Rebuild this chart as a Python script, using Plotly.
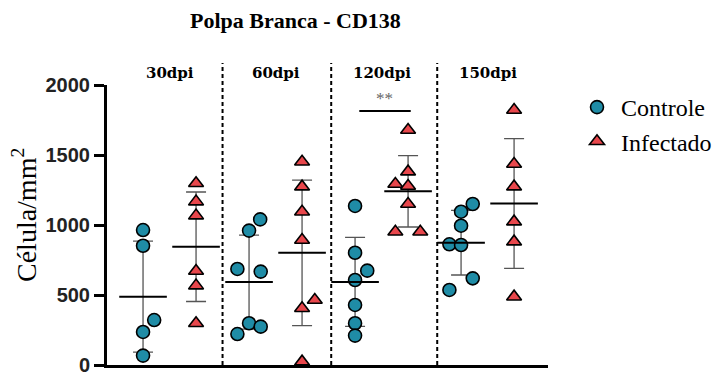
import numpy as np
import plotly.graph_objects as go

periods = ["30dpi", "60dpi", "120dpi", "150dpi"]
groups = ["Controle", "Infectado"]

controle = [
    [964, 852, 321, 236, 67],
    [1040, 960, 686, 667, 298, 274, 221],
    [1136, 802, 674, 607, 429, 298, 210],
    [1150, 1095, 995, 862, 857, 619, 536],
]
infectado = [
    [1298, 1167, 1067, 671, 567, 298],
    [1452, 1274, 1095, 893, 464, 405, 24],
    [1679, 1381, 1293, 1279, 1150, 952, 952],
    [1821, 1436, 1274, 1024, 881, 488],
]
# horizontal scatter of overlapping points (as in the figure)
controle_jitter = [
    [0, 0, 0.21, 0, 0],
    [0.21, 0, -0.22, 0.22, 0, 0.22, -0.22],
    [0, 0, 0.23, 0, 0, 0, 0],
    [0.22, 0, 0, -0.22, 0, 0.22, -0.22],
]
infectado_jitter = [
    [0, 0, 0, 0, 0, 0],
    [0, 0, 0, 0, 0.24, 0, 0],
    [0, 0, -0.24, 0, 0, -0.24, 0.23],
    [0, 0, 0, 0, 0, 0],
]
y_ticks = [0, 500, 1000, 1500, 2000]

TEAL = "#1f8ca6"
RED = "#e8474c"
SERIF = "Liberation Serif"
DSERIF = "DejaVu Serif"
SANS = "Liberation Sans"

# page body has an 8px margin; plot-area geometry in figure pixels
W, H = 724, 373
PL, PT, PW, PH = 99, 77, 441, 280


def px_x(p):  # screen px -> paper x
    return (p - 8 - PL) / PW


def px_y(p):  # screen px -> paper y
    return 1 - (p - 8 - PT) / PH


fig = go.Figure()

series = [(controle, controle_jitter, 0, "circle", TEAL, "Controle"),
          (infectado, infectado_jitter, 1, "triangle-up", RED, "Infectado")]

# error bars (mean ± SD)
for data, jit, off, sym, col, name in series:
    xs = [2 * k + off for k in range(len(periods))]
    means = [float(np.mean(v)) for v in data]
    sds = [float(np.std(v, ddof=1)) for v in data]
    fig.add_trace(go.Scatter(
        x=xs, y=means, mode="markers", showlegend=False, hoverinfo="skip",
        marker=dict(size=1, color="rgba(0,0,0,0)"),
        error_y=dict(type="data", array=sds, visible=True, color="#555555",
                     thickness=1.3, width=10),
    ))

# points
for data, jit, off, sym, col, name in series:
    xs, ys = [], []
    for k, vals in enumerate(data):
        for v, j in zip(vals, jit[k]):
            xs.append(2 * k + off + j)
            ys.append(v)
    fig.add_trace(go.Scatter(
        x=xs, y=ys, mode="markers", name=name, legendgroup=name,
        marker=dict(symbol=sym, size=13, color=col,
                    line=dict(color="black", width=1.6)),
        cliponaxis=False,
    ))

# mean lines
for data, jit, off, sym, col, name in series:
    xs = [2 * k + off for k in range(len(periods))]
    means = [float(np.mean(v)) for v in data]
    fig.add_trace(go.Scatter(
        x=xs, y=means, mode="markers", showlegend=False, hoverinfo="skip",
        marker=dict(symbol="line-ew", size=34, line=dict(color="black", width=2)),
    ))

# separators
for xv in [1.5, 3.55, 5.55]:
    fig.add_shape(type="line", xref="x", yref="paper", x0=xv, x1=xv, y0=0, y1=px_y(63),
                  line=dict(color="black", width=2, dash="4px,3px"))

# period labels
for k, p in enumerate(periods):
    fig.add_annotation(x=2 * k + 0.5, y=px_y(73), xref="x", yref="paper", text=f"<b>{p}</b>",
                       showarrow=False, yanchor="middle",
                       font=dict(family=DSERIF, size=15, color="black"))

# significance
fig.add_shape(type="line", xref="x", yref="y", x0=4.08, x1=5.05, y0=1814, y1=1814,
              line=dict(color="black", width=2))
fig.add_annotation(x=4.55, y=1814, xref="x", yref="y", yshift=13, text="**",
                   showarrow=False, font=dict(family=SERIF, size=17, color="#666666"))

# title
fig.add_annotation(x=px_x(295), y=px_y(21), xref="paper", yref="paper",
                   xanchor="center", yanchor="middle", text="<b>Polpa Branca - CD138</b>",
                   showarrow=False, font=dict(family=SERIF, size=22, color="black"))

# y title
fig.add_annotation(x=px_x(24), y=px_y(215), xref="paper", yref="paper",
                   xanchor="center", yanchor="middle", text="Célula/mm<sup>2</sup>",
                   textangle=-90, showarrow=False,
                   font=dict(family=SERIF, size=28, color="black"))

fig.update_layout(
    width=W, height=H,
    margin=dict(l=PL, r=W - PL - PW, t=PT, b=H - PT - PH, autoexpand=False),
    paper_bgcolor="white", plot_bgcolor="white",
    font=dict(family=SERIF, color="black"),
    xaxis=dict(range=[-0.68, 7.64], showgrid=False, zeroline=False, showticklabels=False,
               ticks="", showline=True, linecolor="black", linewidth=3, automargin=False),
    yaxis=dict(range=[0, 2000], tickvals=y_ticks, showgrid=False, zeroline=False,
               showline=True, linecolor="black", linewidth=3, ticks="outside",
               ticklen=10, tickwidth=2.5, tickcolor="black", automargin=False,
               tickfont=dict(family=SANS, size=20, color="#222222", weight="bold")),
    legend=dict(x=px_x(573), y=px_y(85), xanchor="left", yanchor="top", tracegroupgap=0,
                itemwidth=38,
                font=dict(family=SERIF, size=24, color="black"), bgcolor="rgba(0,0,0,0)"),
    showlegend=True,
)

fig.write_html("out.html")
